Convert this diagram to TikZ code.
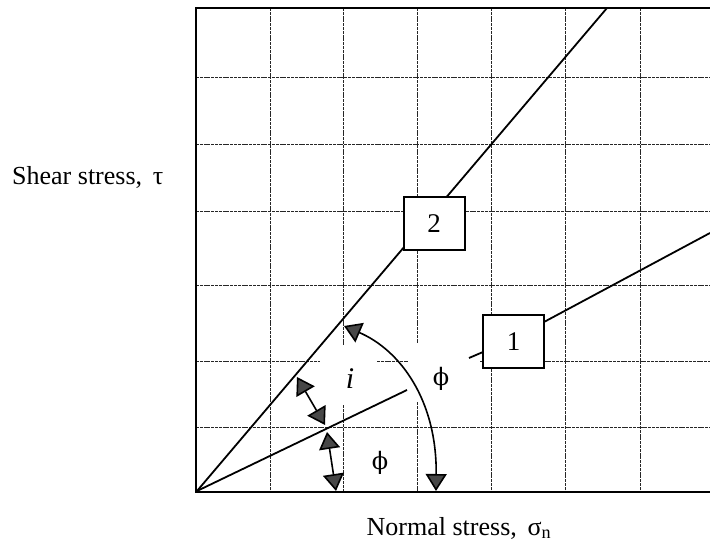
\documentclass[tikz,border=0pt]{standalone}
\usepackage{fontspec}
\setmainfont{Liberation Serif}
\newfontfamily\phifont{DejaVu Serif}
\usetikzlibrary{arrows.meta}
\tikzset{
  gridline/.style={black!85, line width=1pt, dash pattern=on 3pt off 0.8pt},
  frameline/.style={black, line width=2.4pt},
  envline/.style={black, line width=1.8pt},
  numbox/.style={draw, fill=white, line width=2pt, minimum width=61pt, minimum height=53pt, inner sep=0pt, font=\fontsize{27}{30}\selectfont},
  lbl/.style={font=\fontsize{26}{30}\selectfont, inner sep=0pt},
  ilbl/.style={font=\fontsize{30}{34}\selectfont\itshape, inner sep=0pt},
  philbl/.style={font=\phifont\fontsize{24}{28}\selectfont, inner sep=0pt},
  tri/.style={line width=1.6pt, draw=black, {Triangle[length=17pt,width=21pt,fill=black!72]}-{Triangle[length=17pt,width=21pt,fill=black!72]}},
}
\begin{document}
\begin{tikzpicture}[x=1pt,y=-1pt]
\useasboundingbox (0,0) rectangle (710,548);
% grid
\foreach \x in {270,491,565,640} \draw[gridline] (\x,8) -- (\x,492);
\draw[gridline] (343,8) -- (343,345);
\draw[gridline] (343,405) -- (343,492);
\draw[gridline] (417,8) -- (417,343);
\draw[gridline] (417,402) -- (417,492);
\foreach \y in {78,145,212,286,427} \draw[gridline] (196,\y) -- (710,\y);
\draw[gridline] (196,361) -- (320,361);
\draw[gridline] (377,361) -- (408,361);
\draw[gridline] (480,361) -- (710,361);
% frame
\draw[frameline] (710,8) -- (196,8) -- (196,492) -- (710,492);
% coordinates
\coordinate (O) at (197,491);
\coordinate (L2end) at (607,8);
\coordinate (L1a) at (407,390);
\coordinate (L1b) at (469,358);
\coordinate (L1c) at (483,352);
\coordinate (L1d) at (544,322);
\coordinate (L1end) at (710,233);
% envelope lines
\draw[envline] (O) -- (L2end);
\draw[envline] (O) -- (L1a);
\draw[envline] (L1b) -- (L1c);
\draw[envline] (L1d) -- (L1end);
% boxes
\node[numbox] (b2) at (434,224) {2};
\node[numbox] (b1) at (513.5,341.5) {1};
% angle arrows
\coordinate (a1s) at (297,377);
\coordinate (a1e) at (325,425);
\coordinate (a2s) at (327,432);
\coordinate (a2e) at (336,491);
\coordinate (a3s) at (344,326);
\coordinate (a3e) at (436,491);
\draw[tri] (a1s) -- (a1e);
\draw[tri] (a2s) -- (a2e);
\draw[tri] (a3s) .. controls (400,350) and (437,400) .. (a3e);
% labels
\node[ilbl] (li) at (350,379) {i};
\node[philbl] (lphi1) at (441,379) {ϕ};
\node[philbl] (lphi2) at (380,463) {ϕ};
\node[lbl, anchor=west] (ylab) at (12,177) {Shear stress,\, τ};
\node[lbl] (xlab) at (459,528) {Normal stress,\, σ\textsubscript{n}};
\end{tikzpicture}
\end{document}
